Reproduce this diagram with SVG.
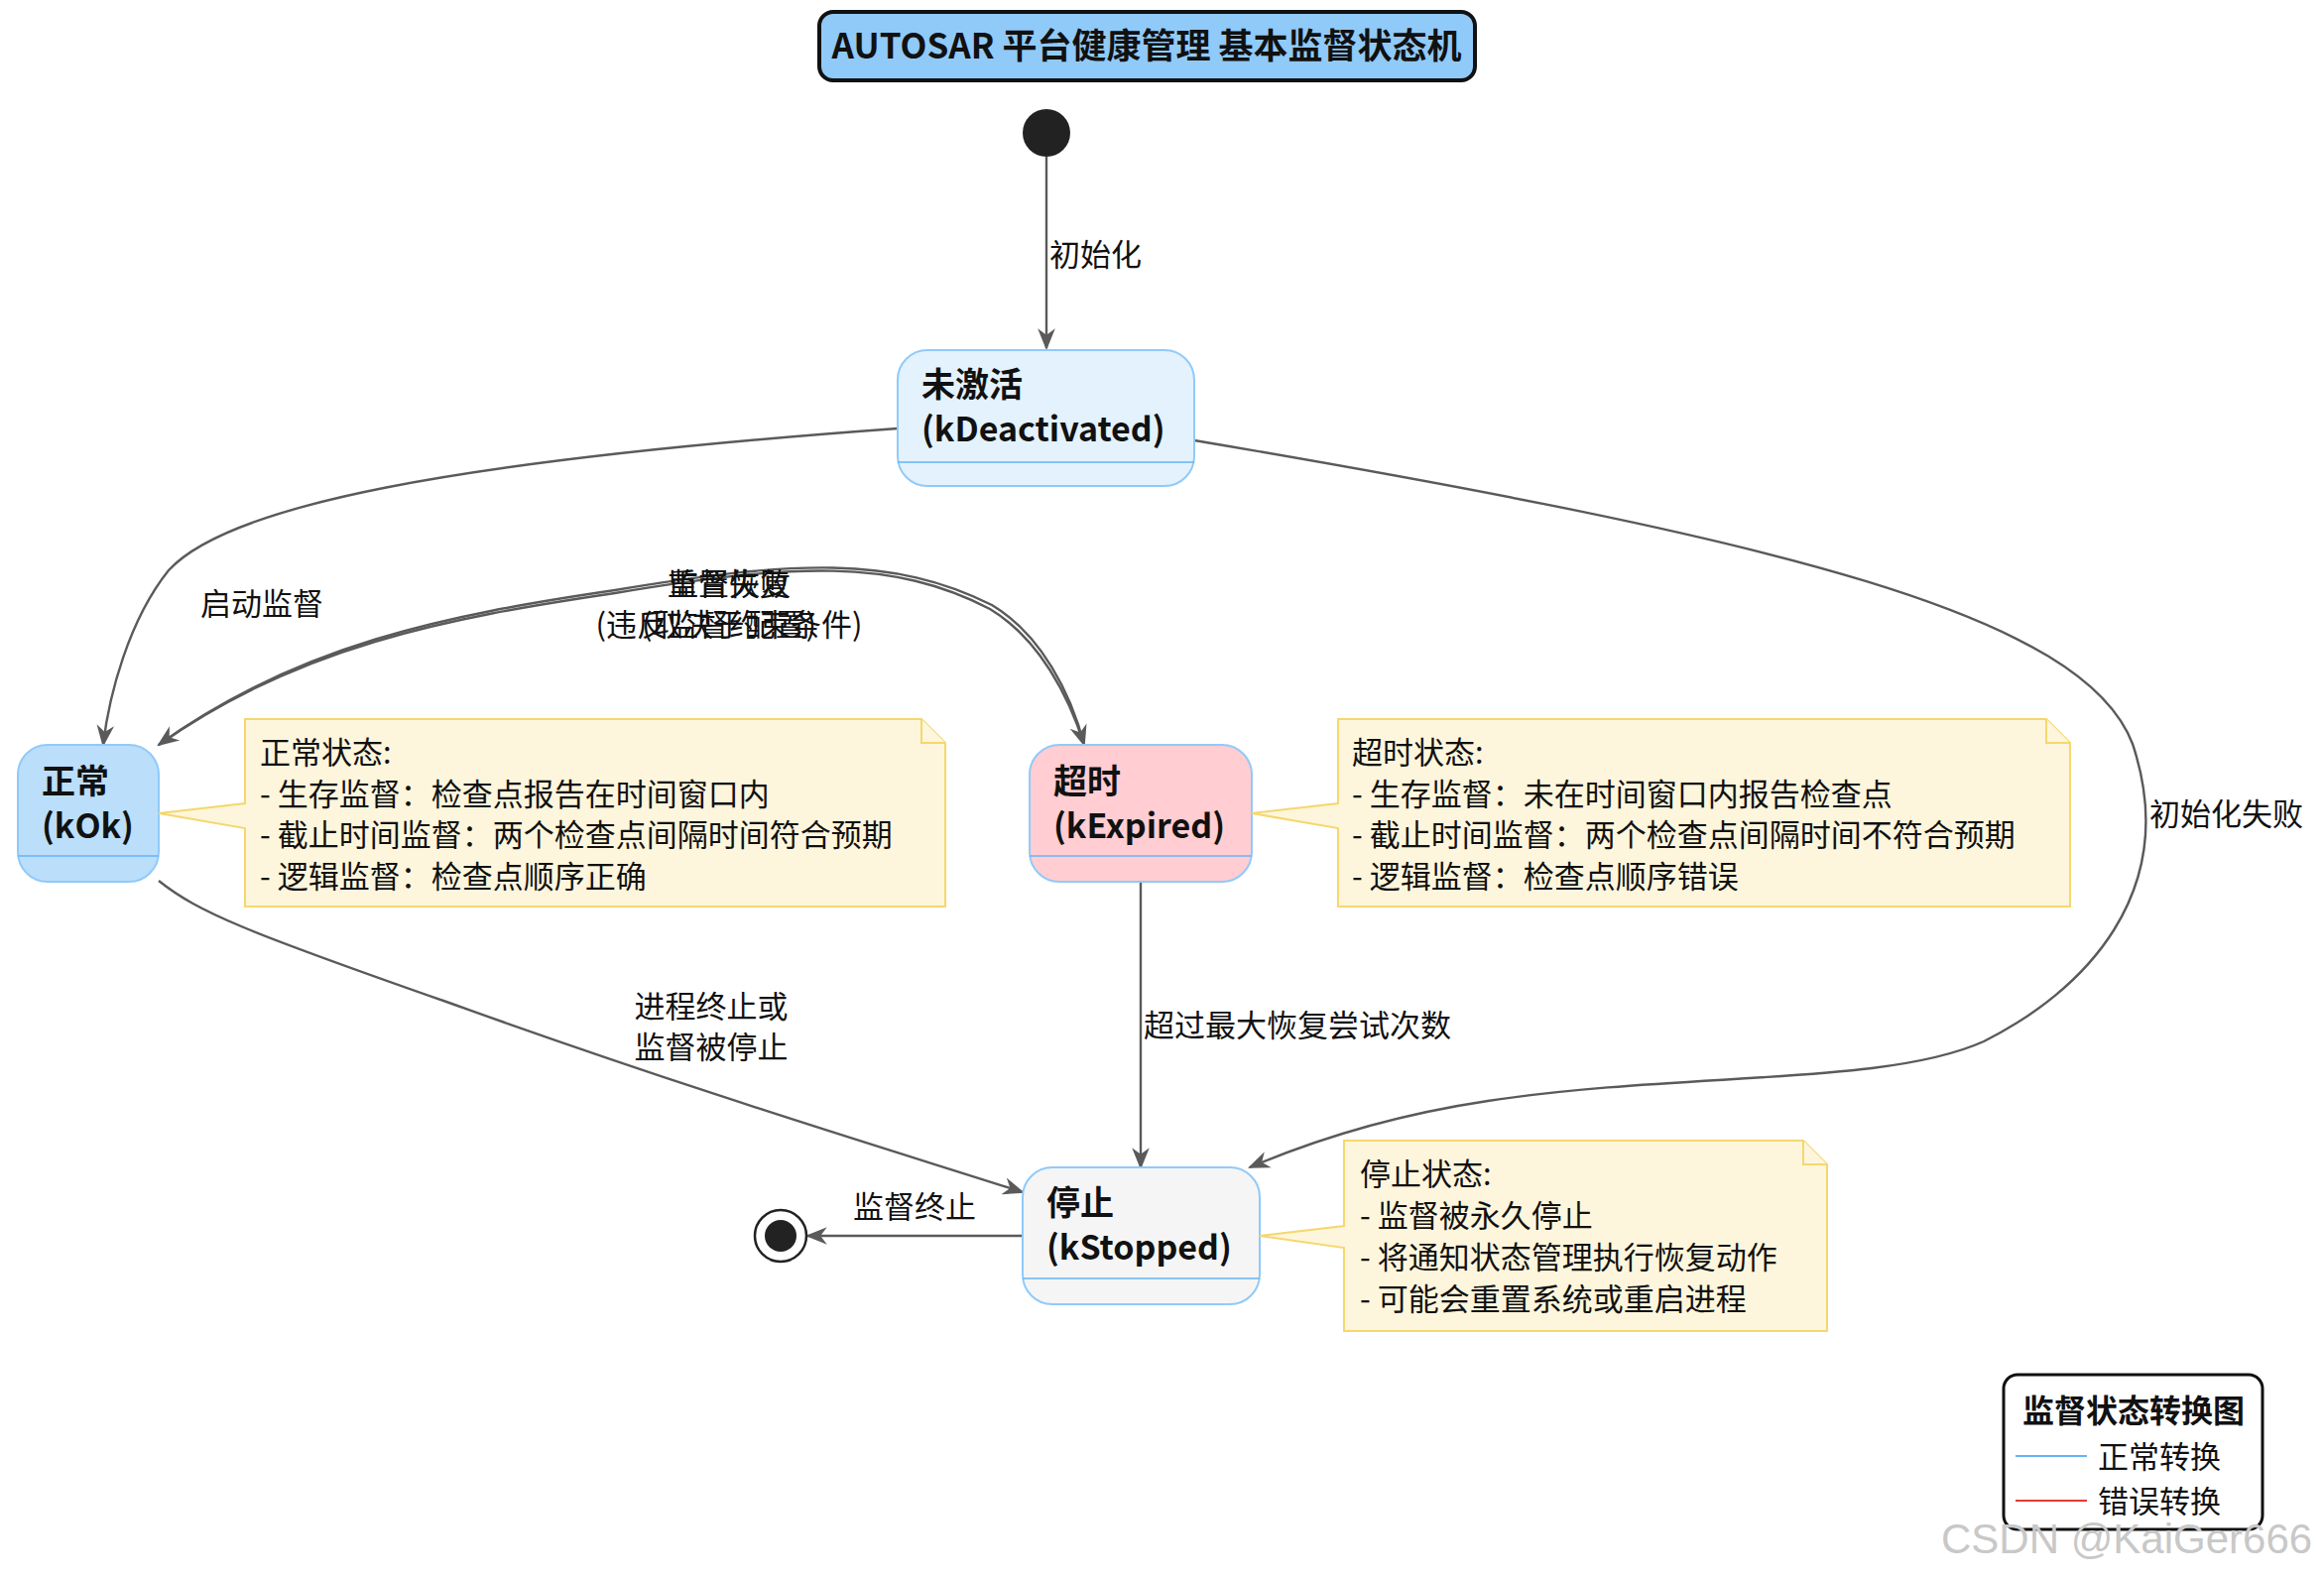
<svg xmlns="http://www.w3.org/2000/svg" width="2343" height="1591" viewBox="0 0 2343 1591">
<style>
text{font-family:"Noto Sans CJK SC","Liberation Sans",sans-serif;fill:#111}
.st{font-size:34px;font-weight:bold}
.nt{font-size:31px}
.lb{font-size:31px}
.e{fill:none;stroke:#5a5a5a;stroke-width:2.4}
.note{fill:#fdf6dc;stroke:#f5d76e;stroke-width:2}
.sep{stroke:#64b5f6;stroke-width:1.5}
</style>
<defs>
<marker id="a" viewBox="0 0 20 20" refX="18" refY="10" markerWidth="22" markerHeight="22" markerUnits="userSpaceOnUse" orient="auto">
<path d="M0,2 L20,10 L0,18 L6,10 Z" fill="#5a5a5a"/>
</marker>
</defs>
<rect width="2343" height="1591" fill="#fff"/>
<g id="title">
<rect x="826" y="12" width="661" height="69" rx="14" fill="#90caf9" stroke="#111" stroke-width="4"/>
<text x="1156" y="59" text-anchor="middle" style="font-size:35px;font-weight:bold">AUTOSAR 平台健康管理 基本监督状态机</text>
</g>
<g id="connectors">
<path class="e" d="M1055,158 L1055,351" marker-end="url(#a)"/>
<text class="lb" x="1058" y="268">初始化</text>
<path class="e" d="M905,432 C450,465 230,510 170,575 C130,625 110,700 104,751" marker-end="url(#a)"/>
<text class="lb" x="202" y="620">启动监督</text>
<path class="e" d="M1204,444 C1800,545 2100,620 2150,750 C2200,900 2100,1000 2000,1050 C1900,1095 1700,1080 1500,1110 C1380,1128 1300,1160 1260,1177" marker-end="url(#a)"/>
<text class="lb" x="2167" y="832">初始化失败</text>
<path class="e" d="M1093,751 C1080,700 1050,640 1000,610 C900,560 800,565 620,595 C450,620 300,650 160,751" marker-end="url(#a)"/>
<path class="e" d="M160,751 C300,652 450,623 620,598 C800,568 900,563 998,614 C1048,644 1078,703 1093,751" marker-end="url(#a)"/>
<text class="lb" x="735" y="600" text-anchor="middle">监督失败</text>
<text class="lb" x="735" y="641" text-anchor="middle">(违反监督约束条件)</text>
<text class="lb" x="735" y="600" text-anchor="middle">重置恢复</text>
<text class="lb" x="735" y="641" text-anchor="middle">(取决于配置)</text>
<path class="e" d="M160,888 C200,920 250,940 450,1010 C700,1100 900,1160 1031,1202" marker-end="url(#a)"/>
<text class="lb" x="717" y="1026" text-anchor="middle">进程终止或</text>
<text class="lb" x="717" y="1067" text-anchor="middle">监督被停止</text>
<path class="e" d="M1150,890 L1150,1177" marker-end="url(#a)"/>
<text class="lb" x="1153" y="1045">超过最大恢复尝试次数</text>
<path class="e" d="M1031,1246 L814,1246" marker-end="url(#a)"/>
<text class="lb" x="922" y="1228" text-anchor="middle">监督终止</text>
</g>
<g id="start"><circle cx="1055" cy="134" r="24" fill="#222"/></g>
<g id="end"><circle cx="787" cy="1246" r="26" fill="#fff" stroke="#222" stroke-width="2.5"/><circle cx="787" cy="1246" r="16" fill="#222"/></g>
<g id="kDeactivated">
<rect x="905" y="353" width="299" height="137" rx="30" fill="#e3f2fd" stroke="#90caf9" stroke-width="2"/>
<line class="sep" x1="905" y1="466" x2="1204" y2="466"/>
<text class="st" x="929" y="400">未激活</text>
<text class="st" x="929" y="445">(kDeactivated)</text>
</g>
<g id="kOk">
<rect x="18" y="751" width="142" height="138" rx="30" fill="#bbdefb" stroke="#90caf9" stroke-width="2"/>
<line class="sep" x1="18" y1="863" x2="160" y2="863"/>
<text class="st" x="42" y="800">正常</text>
<text class="st" x="42" y="845">(kOk)</text>
</g>
<g id="kExpired">
<rect x="1038" y="751" width="224" height="138" rx="30" fill="#ffcdd2" stroke="#90caf9" stroke-width="2"/>
<line class="sep" x1="1038" y1="863" x2="1262" y2="863"/>
<text class="st" x="1062" y="800">超时</text>
<text class="st" x="1062" y="845">(kExpired)</text>
</g>
<g id="kStopped">
<rect x="1031" y="1177" width="239" height="138" rx="30" fill="#f5f5f5" stroke="#90caf9" stroke-width="2"/>
<line class="sep" x1="1031" y1="1289" x2="1270" y2="1289"/>
<text class="st" x="1055" y="1225">停止</text>
<text class="st" x="1055" y="1270">(kStopped)</text>
</g>
<g id="noteOk">
<path class="note" d="M247,725 L929,725 L953,749 L953,914 L247,914 L247,835 L160,820 L247,810 Z"/>
<path class="note" d="M929,725 L929,749 L953,749"/>
<text class="nt" x="262" y="770">正常状态:</text>
<text class="nt" x="262" y="812">- 生存监督：检查点报告在时间窗口内</text>
<text class="nt" x="262" y="853">- 截止时间监督：两个检查点间隔时间符合预期</text>
<text class="nt" x="262" y="895">- 逻辑监督：检查点顺序正确</text>
</g>
<g id="noteExpired">
<path class="note" d="M1349,725 L2063,725 L2087,749 L2087,914 L1349,914 L1349,835 L1262,820 L1349,810 Z"/>
<path class="note" d="M2063,725 L2063,749 L2087,749"/>
<text class="nt" x="1363" y="770">超时状态:</text>
<text class="nt" x="1363" y="812">- 生存监督：未在时间窗口内报告检查点</text>
<text class="nt" x="1363" y="853">- 截止时间监督：两个检查点间隔时间不符合预期</text>
<text class="nt" x="1363" y="895">- 逻辑监督：检查点顺序错误</text>
</g>
<g id="noteStopped">
<path class="note" d="M1355,1150 L1818,1150 L1842,1174 L1842,1342 L1355,1342 L1355,1258 L1270,1246 L1355,1236 Z"/>
<path class="note" d="M1818,1150 L1818,1174 L1842,1174"/>
<text class="nt" x="1371" y="1195">停止状态:</text>
<text class="nt" x="1371" y="1237">- 监督被永久停止</text>
<text class="nt" x="1371" y="1279">- 将通知状态管理执行恢复动作</text>
<text class="nt" x="1371" y="1321">- 可能会重置系统或重启进程</text>
</g>
<g id="legend">
<rect x="2020" y="1386" width="261" height="156" rx="14" fill="#fff" stroke="#111" stroke-width="3"/>
<text x="2151" y="1434" text-anchor="middle" style="font-size:32px;font-weight:bold">监督状态转换图</text>
<line x1="2032" y1="1468" x2="2104" y2="1468" stroke="#64b5f6" stroke-width="2"/>
<text class="nt" x="2115" y="1480">正常转换</text>
<line x1="2032" y1="1513" x2="2104" y2="1513" stroke="#e53935" stroke-width="2"/>
<text class="nt" x="2115" y="1525">错误转换</text>
</g>
<text x="1957" y="1566" style="font-size:42px;fill:#c8c8c8;font-family:'Liberation Sans',sans-serif">CSDN @KaiGer666</text>
</svg>
